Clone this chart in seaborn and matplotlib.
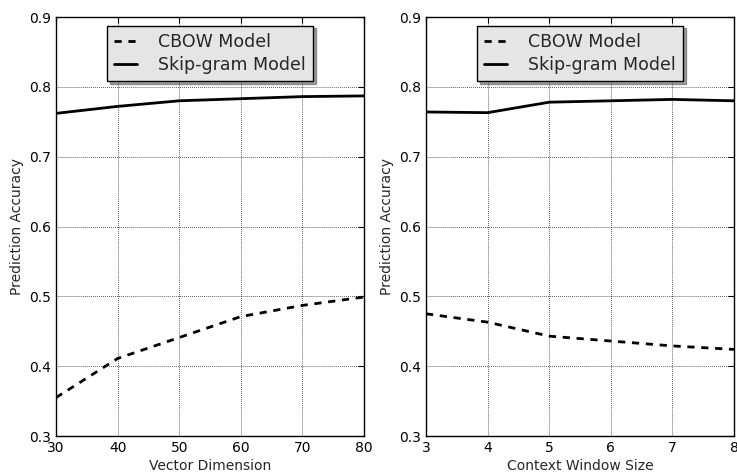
import matplotlib
matplotlib.use("Agg")
import matplotlib.pyplot as plt
import seaborn as sns
import pandas as pd

# ---- data ----
dims = [30, 40, 50, 60, 70, 80]
cbow_dim = [0.355, 0.411, 0.441, 0.471, 0.487, 0.499]
skip_dim = [0.762, 0.772, 0.780, 0.783, 0.786, 0.787]

windows = [3, 4, 5, 6, 7, 8]
cbow_win = [0.475, 0.463, 0.443, 0.436, 0.429, 0.424]
skip_win = [0.764, 0.763, 0.778, 0.780, 0.782, 0.780]

models = ["CBOW Model", "Skip-gram Model"]
y_ticks = [0.3, 0.4, 0.5, 0.6, 0.7, 0.8, 0.9]
x_labels = ["Vector Dimension", "Context Window Size"]
y_label = "Prediction Accuracy"

sns.set_style("white")
plt.rcParams["font.family"] = ["DejaVu Sans"]
plt.rcParams.update({
    "xtick.direction": "in", "ytick.direction": "in",
    "xtick.top": True, "ytick.right": True,
    "xtick.major.size": 4, "ytick.major.size": 4,
    "xtick.major.width": 0.8, "ytick.major.width": 0.8,
    "xtick.color": "black", "ytick.color": "black",
    "axes.edgecolor": "black", "axes.linewidth": 1.0,
    "font.size": 10,
})


def make_df(x, a, b):
    rows = []
    for xi, v in zip(x, a):
        rows.append({"x": xi, "y": v, "Model": models[0]})
    for xi, v in zip(x, b):
        rows.append({"x": xi, "y": v, "Model": models[1]})
    return pd.DataFrame(rows)


fig = plt.figure(figsize=(7.37, 4.75), dpi=100)
W, H = 737, 475
ax1 = fig.add_axes([56 / W, 39 / H, 308 / W, 419 / H])
ax2 = fig.add_axes([426 / W, 39 / H, 308 / W, 419 / H])

panels = [
    (ax1, make_df(dims, cbow_dim, skip_dim), dims, x_labels[0]),
    (ax2, make_df(windows, cbow_win, skip_win), windows, x_labels[1]),
]

for ax, df, xs, xl in panels:
    sns.lineplot(data=df, x="x", y="y", style="Model",
                 dashes={models[0]: (2.6, 2.4), models[1]: ""},
                 color="black", linewidth=2.0, ax=ax, legend=False)
    ax.set_xlim(min(xs), max(xs))
    ax.set_ylim(0.3, 0.9)
    ax.set_xticks(xs)
    ax.set_yticks(y_ticks)
    ax.set_yticklabels([f"{t:.1f}" for t in y_ticks])
    ax.grid(True, linestyle=":", color="black", linewidth=0.55)
    ax.set_axisbelow(False)
    ax.set_xlabel(xl, fontsize=10, labelpad=3)
    ax.set_ylabel(y_label, fontsize=10)
    ax.tick_params(labelsize=10)
    handles = list(ax.lines[:2])
    leg = ax.legend(handles, models, loc="upper center", fontsize=12.5,
                    frameon=True, shadow=True, fancybox=False,
                    facecolor="#e5e5e5", edgecolor="black",
                    handlelength=1.3, borderpad=0.4, labelspacing=0.3,
                    handletextpad=1.25, framealpha=1.0)
    leg.get_frame().set_linewidth(1.0)
    for spine in ax.spines.values():
        spine.set_visible(True)
        spine.set_color("black")

fig.savefig("out.png", dpi=100)
